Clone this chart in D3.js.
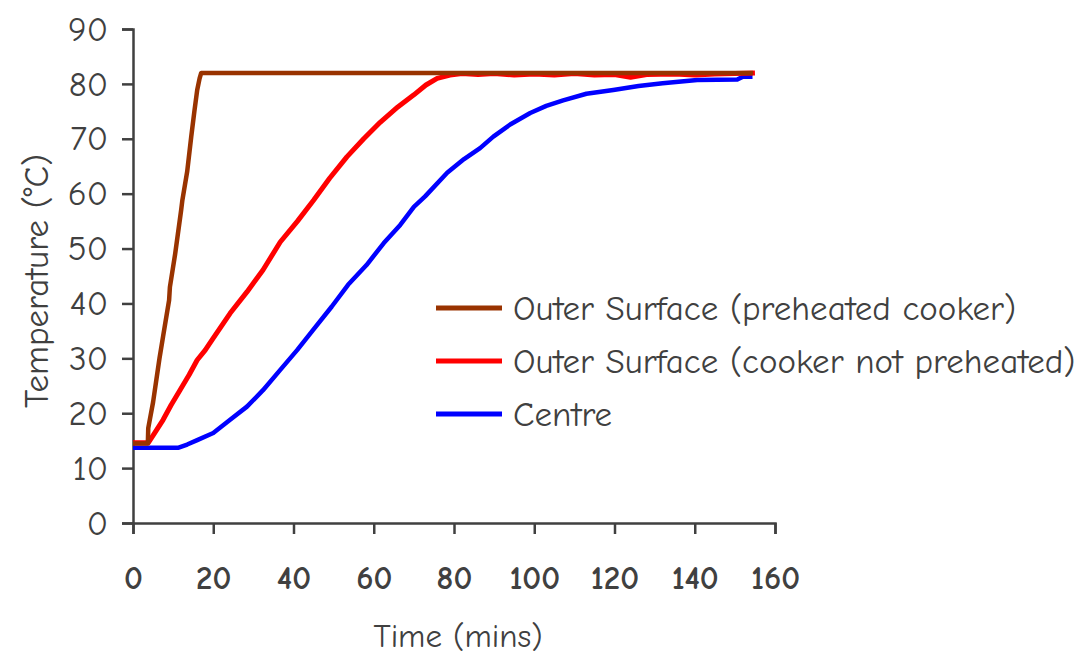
<!DOCTYPE html>
<html>
<head>
<meta charset="utf-8">
<script src="https://cdn.jsdelivr.net/npm/d3@7"></script>
<style>
  body { margin: 0; background: #fff; }
  text { font-family: "Comic Sans MS", "Comic Neue", "DejaVu Sans", sans-serif; fill: #404040; }
</style>
</head>
<body>
<svg id="chart"></svg>
<script>
const width = 1088;
const height = 657;

// time (mins), temperature (°C)
const preheated = [
    [0, 14.5], [3.7, 14.5], [3.8, 17.3], [5, 22], [6.2, 28], [6.6, 30], [7.5, 34],
    [9, 40.6], [9.2, 43], [10.5, 49], [12, 57], [12.3, 58.8], [13.5, 64], [14.5, 70.3],
    [15.3, 75], [16, 78.9], [16.6, 81], [17, 82], [154.5, 82]
];
const notPreheated = [
    [0, 14.6], [3.8, 14.6], [5.5, 16.5], [7.5, 18.8], [9.5, 21.5], [11.7, 24.2], [14, 27],
    [16, 29.7], [18, 31.5], [20, 33.7], [24.2, 38.2], [28.4, 42.1], [32.4, 46.1],
    [36.7, 51.2], [41, 55], [45, 58.8], [49, 62.8], [53.3, 66.7], [57.5, 70], [61.6, 73],
    [66, 75.8], [70, 78], [73, 79.8], [75.8, 81], [79, 81.6], [82, 81.9], [86, 81.7],
    [90, 81.9], [95, 81.6], [100, 81.8], [105, 81.6], [110, 81.9], [115, 81.6],
    [120, 81.7], [124, 81.2], [128, 81.7], [135, 81.8], [140, 81.6], [145, 81.8],
    [150, 81.9], [155, 82]
];
const centre = [
    [0, 13.7], [11.2, 13.7], [13.5, 14.3], [16, 15.1], [20, 16.4], [24.2, 18.8],
    [28.4, 21.2], [32.4, 24.2], [36.7, 27.9], [40.9, 31.5], [44.9, 35.2], [49.5, 39.4],
    [53.6, 43.4], [58.2, 47], [62.5, 51], [66.6, 54.3], [70, 57.6], [72.8, 59.5],
    [78.3, 63.8], [82.5, 66.3], [86.5, 68.3], [89.8, 70.4], [94, 72.6], [99, 74.7],
    [103, 76], [107.2, 77], [113, 78.2], [119.7, 78.9], [126, 79.6], [132, 80.1],
    [140.6, 80.7], [150.6, 80.8], [152, 81.3], [154.4, 81.3]
];

const seriesNames = [
    "Outer Surface (preheated cooker)",
    "Outer Surface (cooker not preheated)",
    "Centre"
];
const seriesColors = ["#993300", "#ff0000", "#0000ff"];
const seriesData = [preheated, notPreheated, centre];

const xTicks = [0, 20, 40, 60, 80, 100, 120, 140, 160];
const yTicks = [0, 10, 20, 30, 40, 50, 60, 70, 80, 90];

const svg = d3.select("#chart")
    .attr("width", width)
    .attr("height", height);

const x = d3.scaleLinear().domain([0, 160]).range([133, 775]);
const y = d3.scaleLinear().domain([0, 90]).range([523, 29]);

const xAxis = svg.append("g")
    .attr("transform", `translate(0,${y(0)})`)
    .call(d3.axisBottom(x)
        .tickValues(xTicks)
        .tickSize(11)
        .tickPadding(32)
        .tickFormat(d3.format("d")));

xAxis.selectAll("text")
    .attr("font-size", "33px")
    .attr("font-weight", "bold")
    .attr("fill", "#404040");

const yAxis = svg.append("g")
    .attr("transform", `translate(${x(0)},0)`)
    .call(d3.axisLeft(y)
        .tickValues(yTicks)
        .tickSize(11)
        .tickPadding(14)
        .tickFormat(d3.format("d")));

yAxis.selectAll("text")
    .attr("font-size", "35px")
    .attr("fill", "#404040");

[xAxis, yAxis].forEach(a => {
    a.attr("font-family", null);
    a.selectAll("path, line")
        .attr("stroke", "#404040")
        .attr("stroke-width", 2.5);
});

const line = d3.line()
    .x(d => x(d[0]))
    .y(d => y(d[1]));

// centre first, preheated last so it sits over the red start
[2, 1, 0].forEach(i => {
    svg.append("path")
        .datum(seriesData[i])
        .attr("fill", "none")
        .attr("stroke", seriesColors[i])
        .attr("stroke-width", i === 1 ? 5 : 4.5)
        .attr("stroke-linejoin", "round")
        .attr("d", line);
});

// legend
const legend = svg.append("g")
    .selectAll("g")
    .data(seriesNames)
    .enter()
    .append("g")
    .attr("transform", (d, i) => `translate(436,${308 + i * 53})`);

legend.append("line")
    .attr("x1", 0)
    .attr("x2", 66)
    .attr("stroke", (d, i) => seriesColors[i])
    .attr("stroke-width", 5);

legend.append("text")
    .attr("x", 77)
    .attr("dy", "0.35em")
    .attr("font-size", "35px")
    .text(d => d);

// axis titles
svg.append("text")
    .attr("transform", `translate(48,${y(45) + 5}) rotate(-90)`)
    .attr("text-anchor", "middle")
    .attr("font-size", "35px")
    .text("Temperature (°C)");

svg.append("text")
    .attr("x", 458)
    .attr("y", 647)
    .attr("text-anchor", "middle")
    .attr("font-size", "33px")
    .text("Time (mins)");
</script>
</body>
</html>
